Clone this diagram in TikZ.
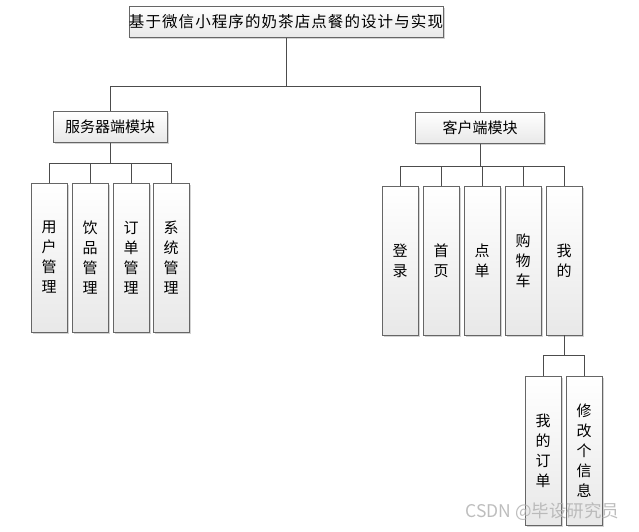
\documentclass[tikz,border=0pt]{standalone}
\usepackage{fontspec}
\setmainfont{Noto Sans CJK SC}
\newfontfamily\titlefont[LetterSpace=7]{Noto Sans CJK SC}
\usetikzlibrary{shadows}

\begin{document}
\begin{tikzpicture}[
    x=1pt, y=-1pt,
    % === STYLES ===
    box/.style={draw=gray!80!black, top color=white, bottom color=gray!18,
        drop shadow={shadow xshift=1.5pt, shadow yshift=-1.5pt, opacity=0.35},
        inner sep=0pt, font=\fontsize{15}{20}\selectfont},
    title box/.style={box, minimum width=312pt, minimum height=31pt,
        font=\titlefont\fontsize{15.5}{20}\selectfont},
    module box/.style={box, minimum height=31pt},
    leaf box/.style={box, minimum width=36pt, minimum height=149pt, align=center},
    link/.style={draw=black!70, line width=0.8pt},
]
    \useasboundingbox (0,0) rectangle (639,531);

    % === TITLE AND MODULES ===
    \node[title box] (title) at (286,22) {基于微信小程序的奶茶店点餐的设计与实现};
    \node[module box, minimum width=114pt] (server) at (110,127) {服务器端模块};
    \node[module box, minimum width=129pt] (client) at (480,128) {客户端模块};

    % === LEAVES ===
    \foreach \name/\x/\txt in {s1/49/{用\\户\\管\\理}, s2/90/{饮\\品\\管\\理},
        s3/131/{订\\单\\管\\理}, s4/171/{系\\统\\管\\理}}
        \node[leaf box] (\name) at (\x,257.5) {\txt};
    \foreach \name/\x/\txt in {c1/400/{登\\录}, c2/441/{首\\页}, c3/482/{点\\单},
        c4/523/{购\\物\\车}, c5/564/{我\\的}}
        \node[leaf box] (\name) at (\x,260.5) {\txt};
    \foreach \name/\x/\txt in {m1/543/{我\\的\\订\\单}, m2/584/{修\\改\\个\\信\\息}}
        \node[leaf box] (\name) at (\x,450.5) {\txt};

    % === CONNECTORS ===
    \coordinate (top bus) at (286,86);
    \draw[link] (title.south) -- (top bus) -| (server.north);
    \draw[link] (top bus) -| (client.north);

    \coordinate (server bus) at (110,163);
    \draw[link] (server.south) -- (server bus);
    \foreach \i in {1,...,4} \draw[link] (server bus) -| (s\i.north);

    \coordinate (client bus) at (480,166);
    \draw[link] (client.south) -- (client bus);
    \foreach \i in {1,...,5} \draw[link] (client bus) -| (c\i.north);

    \coordinate (mine bus) at (564,355);
    \draw[link] (c5.south) -- (mine bus);
    \foreach \i in {1,2} \draw[link] (mine bus) -| (m\i.north);

    % === WATERMARK ===
    \node[anchor=east, text=gray!60, text opacity=0.85, font=\fontsize{17.5}{17.5}\selectfont]
        (mark) at (623,512) {CSDN @毕设研究员};
\end{tikzpicture}
\end{document}
